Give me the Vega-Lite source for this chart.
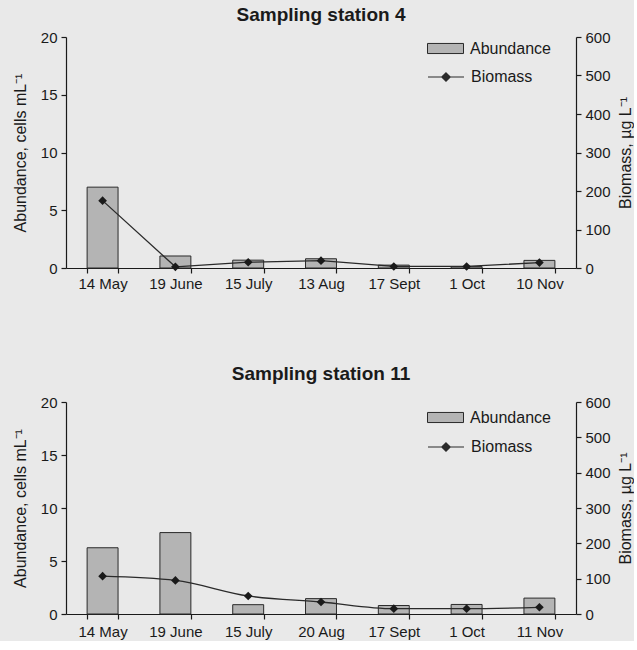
{
  "$schema": "https://vega.github.io/schema/vega-lite/v6.json",
  "background": "#e9e9e9",
  "padding": {"left": 12, "top": 6, "right": 0, "bottom": 2},
  "config": {
    "font": "Liberation Sans",
    "view": {"stroke": null},
    "axis": {
      "labelFont": "Liberation Sans", "titleFont": "Liberation Sans",
      "labelColor": "#1a1a1a", "titleColor": "#1a1a1a",
      "domainColor": "#1a1a1a", "tickColor": "#1a1a1a",
      "grid": false, "labelFontSize": 15, "titleFontSize": 16,
      "titleFontWeight": "normal", "tickSize": 5, "domainWidth": 1.2, "tickWidth": 1.2
    },
    "legend": {"labelFont": "Liberation Sans", "labelFontSize": 16, "labelColor": "#1a1a1a"},
    "title": {"fontSize": 19, "fontWeight": "bold", "color": "#1a1a1a", "font": "Liberation Sans"}
  },
  "datasets": {
    "s4": [
      {"date": "14 May", "abundance": 7.0, "biomass": 175},
      {"date": "19 June", "abundance": 1.04, "biomass": 3},
      {"date": "15 July", "abundance": 0.68, "biomass": 15},
      {"date": "13 Aug", "abundance": 0.8, "biomass": 19},
      {"date": "17 Sept", "abundance": 0.25, "biomass": 4},
      {"date": "1 Oct", "abundance": 0.12, "biomass": 4},
      {"date": "10 Nov", "abundance": 0.66, "biomass": 14}
    ],
    "s11": [
      {"date": "14 May", "abundance": 6.25, "biomass": 107},
      {"date": "19 June", "abundance": 7.68, "biomass": 95},
      {"date": "15 July", "abundance": 0.88, "biomass": 51},
      {"date": "20 Aug", "abundance": 1.45, "biomass": 34},
      {"date": "17 Sept", "abundance": 0.8, "biomass": 15},
      {"date": "1 Oct", "abundance": 0.9, "biomass": 15},
      {"date": "11 Nov", "abundance": 1.5, "biomass": 19}
    ]
  },
  "spacing": 74,
  "resolve": {"scale": {"fill": "independent", "stroke": "independent"}, "legend": {"fill": "independent", "stroke": "independent"}},
  "vconcat": [
    {
      "title": {"text": "Sampling station 4", "offset": 5},
      "width": 510, "height": 231,
      "data": {"name": "s4"},
      "encoding": {
        "x": {"field": "date", "type": "nominal", "sort": null,
          "scale": {"paddingInner": 0.575, "paddingOuter": 0.29},
          "axis": {"title": null, "labelAngle": 0, "tickBand": "extent", "labelPadding": 3}}
      },
      "layer": [
        {
          "mark": {"type": "bar", "stroke": "#2a2a2a", "strokeWidth": 1},
          "encoding": {
            "y": {"field": "abundance", "type": "quantitative", "scale": {"domain": [0, 20]},
              "axis": {"title": "Abundance, cells mL⁻¹", "values": [0, 5, 10, 15, 20], "labelPadding": 4, "titlePadding": 12}},
            "fill": {"datum": "Abundance", "type": "nominal", "scale": {"range": ["#b4b4b4"]},
              "legend": {"orient": "none", "legendX": 367, "legendY": -1, "title": null, "symbolType": "M-1.5,-0.42H1.5V0.42H-1.5Z", "symbolSize": 576, "symbolStrokeColor": "#2a2a2a", "symbolStrokeWidth": 1, "labelOffset": 12}}
          }
        },
        {
          "encoding": {
            "y": {"field": "biomass", "type": "quantitative", "scale": {"domain": [0, 600]},
              "axis": {"orient": "right", "title": "Biomass, µg L⁻¹", "titleAngle": 270, "titleBaseline": "top", "values": [0, 100, 200, 300, 400, 500, 600], "labelPadding": 4, "titlePadding": 7}}
          },
          "layer": [
            {
              "mark": {"type": "line", "strokeWidth": 1.3},
              "encoding": {
                "stroke": {"datum": "Biomass", "type": "nominal", "scale": {"range": ["#2a2a2a"]},
                  "legend": {"orient": "none", "legendX": 367, "legendY": 27, "title": null, "symbolType": "M-1.5,0H1.5M0,-0.35L0.35,0L0,0.35L-0.35,0Z", "symbolSize": 576, "symbolFillColor": "#2a2a2a", "symbolStrokeWidth": 1.2, "labelOffset": 12}}
              }
            },
            {
              "mark": {"type": "point", "shape": "diamond", "filled": true, "size": 75, "color": "#1a1a1a", "opacity": 1},
              "encoding": {}
            }
          ]
        }
      ],
      "resolve": {"scale": {"y": "independent"}}
    },
    {
      "title": {"text": "Sampling station 11", "offset": 11},
      "width": 510, "height": 212,
      "data": {"name": "s11"},
      "encoding": {
        "x": {"field": "date", "type": "nominal", "sort": null,
          "scale": {"paddingInner": 0.575, "paddingOuter": 0.29},
          "axis": {"title": null, "labelAngle": 0, "tickBand": "extent", "labelPadding": 5}}
      },
      "layer": [
        {
          "mark": {"type": "bar", "stroke": "#2a2a2a", "strokeWidth": 1},
          "encoding": {
            "y": {"field": "abundance", "type": "quantitative", "scale": {"domain": [0, 20]},
              "axis": {"title": "Abundance, cells mL⁻¹", "values": [0, 5, 10, 15, 20], "labelPadding": 4, "titlePadding": 12}},
            "fill": {"datum": "Abundance", "type": "nominal", "scale": {"range": ["#b4b4b4"]},
              "legend": {"orient": "none", "legendX": 367, "legendY": 3, "title": null, "symbolType": "M-1.5,-0.42H1.5V0.42H-1.5Z", "symbolSize": 576, "symbolStrokeColor": "#2a2a2a", "symbolStrokeWidth": 1, "labelOffset": 12}}
          }
        },
        {
          "encoding": {
            "y": {"field": "biomass", "type": "quantitative", "scale": {"domain": [0, 600]},
              "axis": {"orient": "right", "title": "Biomass, µg L⁻¹", "titleAngle": 270, "titleBaseline": "top", "values": [0, 100, 200, 300, 400, 500, 600], "labelPadding": 4, "titlePadding": 7}}
          },
          "layer": [
            {
              "mark": {"type": "line", "strokeWidth": 1.3, "interpolate": "monotone"},
              "encoding": {
                "stroke": {"datum": "Biomass", "type": "nominal", "scale": {"range": ["#2a2a2a"]},
                  "legend": {"orient": "none", "legendX": 367, "legendY": 32, "title": null, "symbolType": "M-1.5,0H1.5M0,-0.35L0.35,0L0,0.35L-0.35,0Z", "symbolSize": 576, "symbolFillColor": "#2a2a2a", "symbolStrokeWidth": 1.2, "labelOffset": 12}}
              }
            },
            {
              "mark": {"type": "point", "shape": "diamond", "filled": true, "size": 75, "color": "#1a1a1a", "opacity": 1},
              "encoding": {}
            }
          ]
        }
      ],
      "resolve": {"scale": {"y": "independent"}}
    }
  ]
}
